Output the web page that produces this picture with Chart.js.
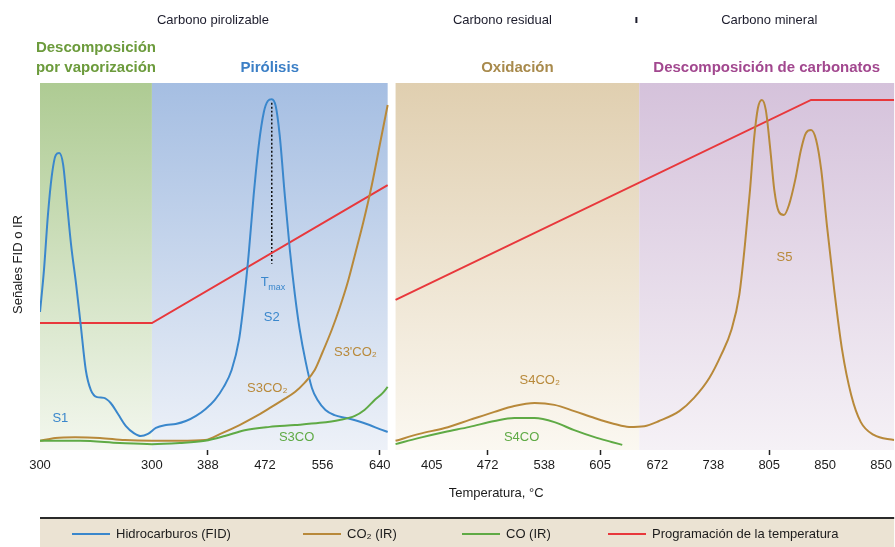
<!DOCTYPE html>
<html>
<head>
<meta charset="utf-8">
<script src="https://cdn.jsdelivr.net/npm/chart.js@4.4.1/dist/chart.umd.min.js"></script>
<style>
  html, body { margin: 0; padding: 0; background: #ffffff; }
  #wrap { width: 895px; height: 547px; }
</style>
</head>
<body>
<div id="wrap"><canvas id="c" width="895" height="547"></canvas></div>
<script>
// ---- Axis: positions along the analysis (tick units) and their temperature labels
const xTickPos    = [0, 1.98, 2.97, 3.98, 5.0, 6.01, 6.93, 7.92, 8.92, 9.91, 10.92, 11.91, 12.90, 13.89, 14.88];
const xTickLabels = ['300', '300', '388', '472', '556', '640', '405', '472', '538', '605', '672', '738', '805', '850', '850'];
const markedTickIdx = [2, 5, 7, 9, 12];

// ---- Phases of the programme
const phaseStart = [0, 1.98, 6.29, 10.6];
const phaseEnd   = [1.98, 6.15, 10.6, 15.11];

// ---- Hydrocarbons (FID), pyrolysis only
const fidX = [0, 0.07, 0.14, 0.21, 0.28, 0.34, 0.41, 0.48, 0.55, 0.64, 0.72, 0.81, 0.90, 1.01, 1.13, 1.25, 1.38, 1.52, 1.66, 1.78, 1.91,
              2.05, 2.23, 2.40, 2.58, 2.76, 2.93, 3.09, 3.25, 3.39, 3.52, 3.60, 3.69, 3.78, 3.87, 3.96, 4.03, 4.10, 4.17, 4.24, 4.33,
              4.42, 4.51, 4.59, 4.70, 4.81, 4.91, 5.05, 5.21, 5.42, 5.62, 5.83, 6.01, 6.15];
const fidY = [37.6, 49.0, 64.0, 74.9, 80.4, 80.9, 77.7, 66.8, 55.9, 45.0, 34.1, 21.8, 16.3, 14.4, 14.2, 12.8, 9.8, 6.5, 4.6, 3.8, 4.4,
              6.0, 6.8, 7.1, 7.9, 9.3, 11.2, 13.6, 17.2, 21.8, 30.0, 39.5, 53.1, 69.5, 83.1, 92.1, 95.1, 95.6, 93.7, 85.8, 69.5,
              54.5, 42.2, 33.2, 24.0, 16.9, 13.6, 10.9, 9.5, 8.7, 7.9, 6.8, 5.7, 4.9];

// ---- CO2 (IR): pyrolysis, then oxidation (null = change of oven)
const co2X = [0, 0.27, 0.62, 1.06, 1.5, 1.98, 2.47, 2.92, 3.22, 3.53, 3.80, 4.06, 4.29, 4.51, 4.68, 4.86, 5.0, 5.16, 5.30, 5.44, 5.58,
              5.72, 5.87, 6.01, 6.15, 6.22,
              6.29, 6.71, 7.16, 7.60, 8.04, 8.39, 8.75, 9.10, 9.45, 9.81, 10.16, 10.42, 10.69, 10.95, 11.31, 11.57, 11.84, 12.05, 12.23,
              12.37, 12.47, 12.56, 12.63, 12.70, 12.77, 12.84, 12.92, 12.99, 13.07, 13.16, 13.25, 13.36, 13.46, 13.55, 13.64, 13.73,
              13.82, 13.92, 14.05, 14.19, 14.35, 14.52, 14.75, 15.11];
const co2Y = [2.5, 3.3, 3.5, 3.3, 2.7, 2.5, 2.5, 2.7, 4.6, 6.8, 9.0, 11.4, 13.6, 15.8, 18.3, 21.8, 26.7, 32.7, 38.7, 45.5, 53.7,
              62.1, 72.2, 83.1, 94.0, null,
              2.5, 4.4, 6.0, 8.2, 10.4, 12.0, 12.8, 12.3, 10.6, 8.7, 7.1, 6.3, 6.5, 7.9, 10.6, 14.2, 19.6, 25.9, 32.7,
              42.2, 55.9, 70.8, 84.5, 93.2, 95.4, 92.6, 81.7, 70.8, 64.9, 64.0, 66.8, 73.6, 81.7, 86.4, 87.2, 84.5,
              76.3, 61.3, 43.6, 27.2, 15.0, 7.6, 4.1, 2.7];

// ---- CO (IR)
const coX = [0, 0.71, 1.41, 1.98, 2.47, 2.92, 3.27, 3.62, 4.06, 4.51, 4.95, 5.30, 5.57, 5.74, 5.92, 6.06, 6.15, 6.22,
             6.29, 6.71, 7.16, 7.60, 8.04, 8.39, 8.75, 9.10, 9.45, 9.81, 10.11, 10.30];
const coY = [2.5, 2.5, 1.9, 1.6, 1.9, 2.5, 3.8, 5.4, 6.3, 6.8, 7.4, 8.2, 9.3, 10.9, 13.6, 15.5, 17.2, null,
             1.6, 3.3, 4.9, 6.3, 7.9, 8.7, 8.7, 7.6, 5.4, 3.5, 2.2, 1.4];

// ---- Oven temperature programme
const tempX = [0, 1.98, 6.15, 6.22, 6.29, 13.64, 15.11];
const tempY = [34.6, 34.6, 72.2, null, 40.9, 95.4, 95.4];

const FONT = "'Liberation Sans', Arial, sans-serif";
const BLUE = '#3a87cc', BROWN = '#b8893a', GREEN = '#5faa45', RED = '#e8383c';

const pts = (xs, ys) => xs.map((x, i) => ({ x: x, y: ys[i] }));

// Tmax: vertical from the S2 peak down to the temperature line
const s2Start = fidX.findIndex(v => v >= 2.5);
let tmaxIdx = s2Start;
for (let i = s2Start; i < fidY.length; i++) if (fidY[i] > fidY[tmaxIdx]) tmaxIdx = i;
const tmaxX = fidX[tmaxIdx];
const tempAtTmax = tempY[1] + (tmaxX - tempX[1]) / (tempX[2] - tempX[1]) * (tempY[2] - tempY[1]);

const lineBase = { pointRadius: 0, borderWidth: 2, fill: false, spanGaps: false, cubicInterpolationMode: 'monotone' };

const datasets = [
  Object.assign({ label: 'CO (IR)', data: pts(coX, coY), borderColor: GREEN, backgroundColor: GREEN }, lineBase),
  Object.assign({ label: 'CO\u2082 (IR)', data: pts(co2X, co2Y), borderColor: BROWN, backgroundColor: BROWN }, lineBase),
  Object.assign({ label: 'Hidrocarburos (FID)', data: pts(fidX, fidY), borderColor: BLUE, backgroundColor: BLUE }, lineBase),
  Object.assign({ label: 'Programación de la temperatura', data: pts(tempX, tempY), borderColor: RED, backgroundColor: RED }, lineBase, { tension: 0, cubicInterpolationMode: 'default' }),
  Object.assign({ label: 'Tmax', data: [{ x: tmaxX, y: fidY[tmaxIdx] - 1 }, { x: tmaxX, y: tempAtTmax - 3 }], borderColor: '#111', borderDash: [2, 2] }, lineBase, { borderWidth: 1.5, tension: 0 })
];

const legendOrder = ['Hidrocarburos (FID)', 'CO\u2082 (IR)', 'CO (IR)', 'Programación de la temperatura'];

// Text placed on the plot, anchored in data coordinates
const peakLabels = [
  { text: 'S1', x: 0.36, y: 8.5, color: BLUE },
  { text: 'S2', x: 4.10, y: 36.0, color: BLUE },
  { text: 'S3CO\u2082', x: 4.02, y: 16.8, color: BROWN },
  { text: 'S3CO', x: 4.54, y: 3.4, color: GREEN },
  { text: "S3'CO\u2082", x: 5.58, y: 26.5, color: BROWN },
  { text: 'S4CO\u2082', x: 8.84, y: 19.0, color: BROWN },
  { text: 'S4CO', x: 8.52, y: 3.4, color: GREEN },
  { text: 'S5', x: 13.17, y: 52.5, color: BROWN }
];

const decor = {
  id: 'decor',
  beforeDatasetsDraw(chart) {
    const { ctx, chartArea: a, scales: { x } } = chart;
    const bands = [
      ['#aecb93', '#f3f7ee'],
      ['#a5bee2', '#edf1f8'],
      ['#e0cfb0', '#fbf8f1'],
      ['#d5c2db', '#f5f1f6']
    ];
    ctx.save();
    phaseStart.forEach((s, i) => {
      const x0 = x.getPixelForValue(s), x1 = x.getPixelForValue(phaseEnd[i]);
      const g = ctx.createLinearGradient(0, a.top, 0, a.bottom);
      g.addColorStop(0, bands[i][0]);
      g.addColorStop(1, bands[i][1]);
      ctx.fillStyle = g;
      ctx.fillRect(x0, a.top, x1 - x0, a.bottom - a.top);
    });
    ctx.restore();
  },
  afterDraw(chart) {
    const { ctx, chartArea: a, scales: { x, y } } = chart;
    ctx.save();
    ctx.textAlign = 'center';
    ctx.textBaseline = 'middle';

    // peak labels
    ctx.font = '13px ' + FONT;
    peakLabels.forEach(l => {
      ctx.fillStyle = l.color;
      ctx.fillText(l.text, x.getPixelForValue(l.x), y.getPixelForValue(l.y));
    });
    // Tmax label
    const tx = x.getPixelForValue(tmaxX) + 1, ty = y.getPixelForValue(tempAtTmax) + 30;
    ctx.fillStyle = BLUE;
    ctx.font = '13px ' + FONT;
    ctx.fillText('T', tx - 8, ty);
    ctx.font = '9px ' + FONT;
    ctx.fillText('max', tx + 4, ty + 5);

    // header: carbon fractions
    ctx.fillStyle = '#1c1c2c';
    ctx.font = '13px ' + FONT;
    ctx.fillText('Carbono pirolizable', x.getPixelForValue(3.06), 20);
    ctx.fillText('Carbono residual', x.getPixelForValue(8.18), 20);
    ctx.fillText('Carbono mineral', x.getPixelForValue(12.9), 20);
    ctx.fillRect(x.getPixelForValue(10.55) - 1, 17, 2, 6);

    // header: phases
    ctx.font = 'bold 15px ' + FONT;
    const phaseColors = ['#6c9b3c', '#3b7fc6', '#a88a4c', '#a2488f'];
    const mid = i => x.getPixelForValue((phaseStart[i] + phaseEnd[i]) / 2);
    ctx.fillStyle = phaseColors[0];
    ctx.fillText('Descomposición', mid(0), 48);
    ctx.fillText('por vaporización', mid(0), 68);
    ctx.fillStyle = phaseColors[1];
    ctx.fillText('Pirólisis', mid(1), 68);
    ctx.fillStyle = phaseColors[2];
    ctx.fillText('Oxidación', mid(2), 68);
    ctx.fillStyle = phaseColors[3];
    ctx.fillText('Descomposición de carbonatos', mid(3), 68);

    // axis titles
    ctx.fillStyle = '#1c1c1c';
    ctx.font = '13px ' + FONT;
    ctx.fillText('Temperatura, °C', x.getPixelForValue(8.07), a.bottom + 43);
    ctx.save();
    ctx.translate(18, (a.top + a.bottom) / 2 - 2);
    ctx.rotate(-Math.PI / 2);
    ctx.fillText('Señales FID o IR', 0, 0);
    ctx.restore();

    // legend strip
    const top = a.bottom + 67;
    ctx.fillStyle = '#ebe3d3';
    ctx.fillRect(a.left, top, a.right - a.left, chart.height - top);
    ctx.fillStyle = '#2a2a2a';
    ctx.fillRect(a.left, top, a.right - a.left, 2);
    const itemX = [72, 303, 462, 608];
    const cy = top + 17;
    ctx.textAlign = 'left';
    ctx.font = '13px ' + FONT;
    legendOrder.forEach((name, i) => {
      const ds = chart.data.datasets.find(d => d.label === name);
      ctx.fillStyle = ds.borderColor;
      ctx.fillRect(itemX[i], cy - 1, 38, 2);
      ctx.fillStyle = '#1c1c1c';
      ctx.fillText(ds.label, itemX[i] + 44, cy);
    });
    ctx.restore();
  }
};

new Chart(document.getElementById('c'), {
  type: 'line',
  data: { datasets: datasets },
  options: {
    responsive: false,
    animation: false,
    layout: { padding: { top: 83, left: 40, right: 0, bottom: 30 } },
    plugins: { legend: { display: false }, tooltip: { enabled: false } },
    scales: {
      x: {
        type: 'linear', min: 0, max: 15.11,
        border: { display: false },
        grid: {
          drawOnChartArea: false, drawTicks: true, tickLength: 5, tickWidth: 1.5,
          tickColor: c => markedTickIdx.includes(c.index) ? '#222' : 'rgba(0,0,0,0)'
        },
        afterBuildTicks: s => { s.ticks = xTickPos.map(v => ({ value: v })); },
        afterFit: s => { s.height = 67; },
        ticks: {
          autoSkip: false, maxRotation: 0, padding: 3, color: '#1c1c1c',
          font: { family: FONT, size: 13 },
          callback: (v, i) => xTickLabels[i]
        }
      },
      y: { display: false, min: 0, max: 100 }
    }
  },
  plugins: [decor]
});
</script>
</body>
</html>
